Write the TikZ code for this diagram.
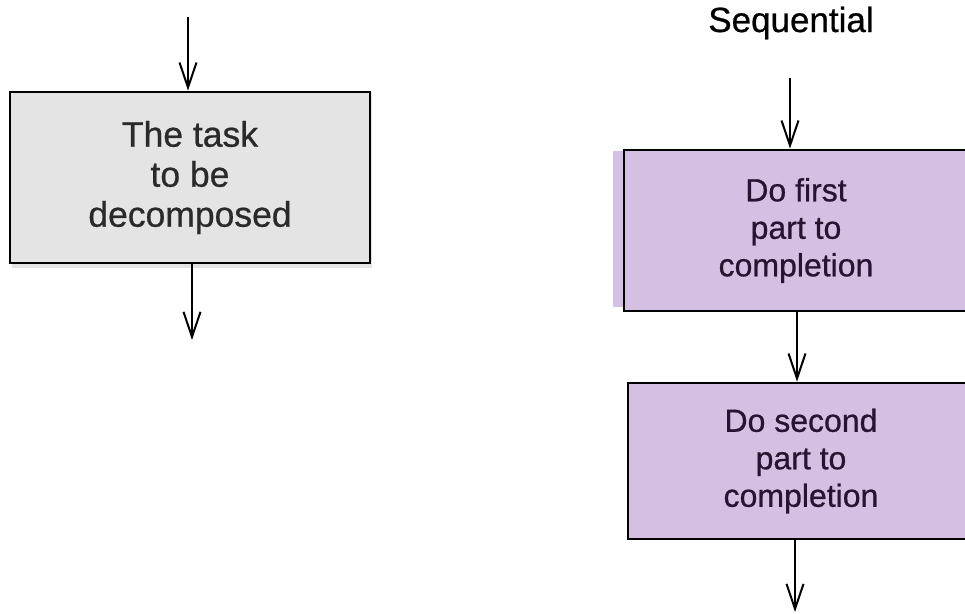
\documentclass[tikz,border=0pt]{standalone}
\usepackage{fontspec}
\setmainfont[FakeBold=0.7]{Liberation Sans}
\usetikzlibrary{arrows.meta}
\definecolor{boxgray}{RGB}{228,228,228}
\definecolor{boxpurple}{RGB}{212,192,226}
\definecolor{txtgray}{RGB}{42,42,42}
\definecolor{txtpurple}{RGB}{38,20,50}
\begin{document}
\begin{tikzpicture}[x=1pt,y=-1pt,
  flow/.style={draw=black, line width=2.8pt, rectangle, inner sep=0pt, align=center},
  arr/.style={line width=2.3pt, -{Straight Barb[length=25pt,width=17pt,line width=2pt]}},
]
\useasboundingbox (0,0) rectangle (965,613);
% scan artefact fills
\fill[boxgray] (12,92) rectangle (372,268);
\fill[boxpurple] (613,151) rectangle (965,307);
% left
\node[flow, fill=boxgray, text=txtgray, minimum width=360pt, minimum height=171pt,
      font=\fontsize{35.5}{40}\selectfont] (task) at (190,177.5) {The task\\to be\\decomposed};
\coordinate (tin) at (188,17);
\coordinate (tout) at (192,340);
\draw[arr] (tin) -- (tin |- task.north);
\draw[arr] (tout |- task.south) -- (tout);
% right
\node[anchor=base, font=\fontsize{35}{40}\selectfont] (seq) at (791,32) {Sequential};
\node[flow, fill=boxpurple, text=txtpurple, minimum width=344pt, minimum height=161pt,
      font=\fontsize{32}{37.5}\selectfont] (first) at (796,230.5) {Do first\\part to\\completion};
\node[flow, fill=boxpurple, text=txtpurple, minimum width=346pt, minimum height=156pt,
      font=\fontsize{32}{37.5}\selectfont] (second) at (801,461) {Do second\\part to\\completion};
\coordinate (sin) at (790,78);
\coordinate (sout) at (795,612);
\draw[arr] (sin) -- (sin |- first.north);
\draw[arr] ([xshift=1pt]first.south) -- ([xshift=1pt]first.south |- second.north);
\draw[arr] (sout |- second.south) -- (sout);
\end{tikzpicture}
\end{document}
